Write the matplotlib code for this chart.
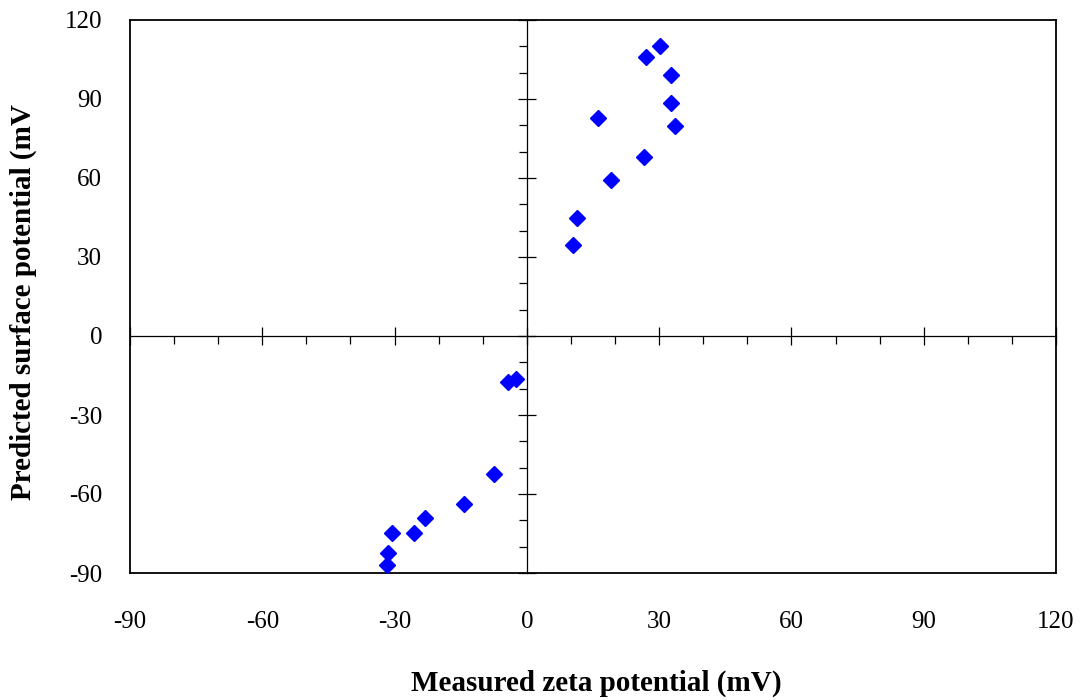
import numpy as np
import matplotlib
matplotlib.use('Agg')
import matplotlib.pyplot as plt
from matplotlib.ticker import MultipleLocator

plt.rcParams['font.family'] = ['Liberation Serif', 'DejaVu Serif']
plt.rcParams['axes.unicode_minus'] = False

# measured zeta potential (mV) vs predicted surface potential (mV)
zeta = [30.2, 27.0, 32.7, 32.7, 33.6, 16.1, 26.5, 19.0, 11.3, 10.4,
        -4.2, -2.5, -7.5, -14.3, -23.1, -25.7, -30.5, -31.4, -31.8]
surface = [110.1, 106.0, 99.3, 88.5, 79.8, 82.8, 68.0, 59.2, 44.8, 34.6,
           -17.4, -16.4, -52.3, -63.8, -69.0, -74.8, -74.8, -82.5, -87.0]

xticks = [-90, -60, -30, 0, 30, 60, 90, 120]
yticks = [-90, -60, -30, 0, 30, 60, 90, 120]

fig = plt.figure(figsize=(10.83, 7.0), dpi=100)
pos = [130 / 1083, 127 / 700, 926 / 1083, 553 / 700]

# outer box with the tick labels
ax = fig.add_axes(pos)
ax.set_xlim(-90, 120)
ax.set_ylim(-90, 120)
ax.set_xticks(xticks)
ax.set_yticks(yticks)
ax.tick_params(axis='both', which='both', length=0, labelsize=18)
ax.tick_params(axis='x', pad=27)
ax.tick_params(axis='y', pad=20)
for s in ax.spines.values():
    s.set_linewidth(1.3)

ax.plot(zeta, surface, linestyle='none', marker='D', markersize=8.5,
        color='#0000FF', markeredgecolor='#0000FF', zorder=5)

# axes crossing at zero with the ticks
ax2 = fig.add_axes(pos)
ax2.set_xlim(-90, 120)
ax2.set_ylim(-90, 120)
ax2.set_xticks(xticks)
ax2.set_yticks(yticks)
ax2.patch.set_visible(False)
ax2.spines['top'].set_visible(False)
ax2.spines['right'].set_visible(False)
ax2.spines['left'].set_position(('data', 0))
ax2.spines['bottom'].set_position(('data', 0))
ax2.spines['left'].set_linewidth(0.9)
ax2.spines['bottom'].set_linewidth(0.9)
ax2.xaxis.set_minor_locator(MultipleLocator(10))
ax2.yaxis.set_minor_locator(MultipleLocator(10))
ax2.tick_params(which='major', direction='inout', length=13, width=0.9,
                labelbottom=False, labelleft=False)
ax2.tick_params(which='minor', direction='out', length=6, width=0.9)

fig.text(596 / 1083, 1 - 683 / 700, 'Measured zeta potential (mV)',
         ha='center', va='center', fontsize=21, fontweight='bold')
fig.text(23 / 1083, 1 - 500 / 700, 'Predicted surface potential (mV',
         ha='center', va='bottom', rotation=90, fontsize=21, fontweight='bold')

fig.savefig('out.png', dpi=100)
